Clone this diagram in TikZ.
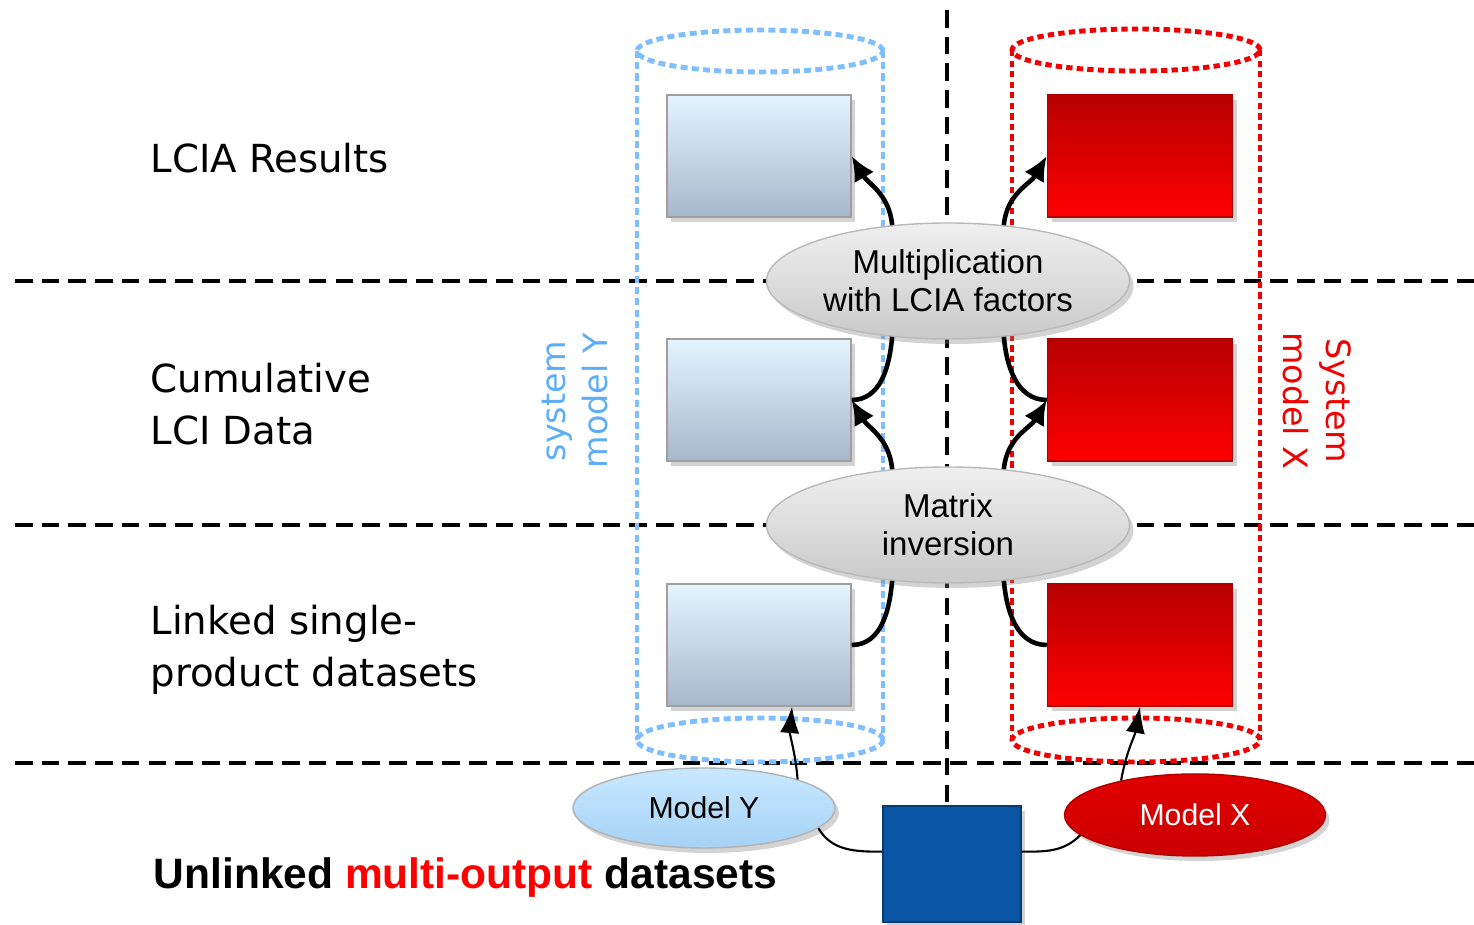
\documentclass[tikz,border=0pt]{standalone}
\usepackage{fontspec}
\setmainfont{DejaVu Sans}
\newfontfamily\arialfont{Liberation Sans}
\usetikzlibrary{shapes.geometric,arrows.meta,shadows}

\definecolor{sysblue}{HTML}{80BFFF}
\definecolor{sysred}{HTML}{F20000}
\definecolor{labelblue}{HTML}{5EAEF7}
\definecolor{boxtop}{HTML}{E4F5FF}
\definecolor{boxbot}{HTML}{A7B8CC}
\definecolor{mytop}{HTML}{C8E8FF}
\definecolor{mybot}{HTML}{A6D2F5}
\definecolor{sqblue}{HTML}{0A55A3}

\begin{document}
\begin{tikzpicture}[
  layerline/.style={black,line width=1pt,dash pattern=on 5pt off 2.6pt},
  bluecyl/.style={sysblue,line width=1.4pt,dash pattern=on 2pt off 1.2pt},
  redcyl/.style={sysred,line width=1.4pt,dash pattern=on 1.8pt off 1.2pt},
  softshadow/.style={drop shadow={opacity=0.35,shadow xshift=0.4mm,shadow yshift=-0.5mm}},
  ybox/.style={rectangle,draw=gray!75,top color=boxtop,bottom color=boxbot,
    minimum width=1.84cm,minimum height=1.22cm,inner sep=0pt,softshadow},
  xbox/.style={rectangle,draw=red!70!black,top color=red!72!black,bottom color=red,
    minimum width=1.85cm,minimum height=1.22cm,inner sep=0pt,softshadow},
  opellipse/.style={ellipse,draw=gray!55,top color=gray!12,bottom color=gray!42,
    minimum width=3.63cm,minimum height=1.16cm,inner sep=0pt,align=center,
    font=\arialfont\fontsize{9.4}{10.9}\selectfont,softshadow},
  modely/.style={ellipse,draw=gray!60,top color=mytop,bottom color=mybot,
    minimum width=2.62cm,minimum height=0.8cm,inner sep=0pt,
    font=\arialfont\fontsize{8.6}{10}\selectfont,softshadow},
  modelx/.style={ellipse,draw=red!70!black,top color=red!88!black,bottom color=red!80!black,
    minimum width=2.61cm,minimum height=0.82cm,inner sep=0pt,text=white,
    font=\arialfont\fontsize{8.6}{10}\selectfont,softshadow},
  layertext/.style={anchor=west,align=left,inner sep=0pt,font=\fontsize{11}{14.6}\selectfont},
  syslabel/.style={align=center,font=\fontsize{9.5}{12.2}\selectfont},
  thickarr/.style={-{Latex[length=7pt,width=6.5pt]},line width=1.3pt},
  thickline/.style={line width=1.3pt},
  thinarr/.style={-{Latex[length=7.5pt,width=5.5pt]},line width=0.6pt},
  thinline/.style={line width=0.6pt}
]
\useasboundingbox (0,0) rectangle (14.74,-9.25);

\draw[layerline] (0.15,-2.81) -- (14.74,-2.81);
\draw[layerline] (0.15,-5.25) -- (14.74,-5.25);
\draw[layerline] (0.15,-7.63) -- (14.74,-7.63);
\draw[layerline] (9.47,-0.1) -- (9.47,-8.06);

\draw[bluecyl] (7.60,-0.51) ellipse [x radius=1.23,y radius=0.21];
\draw[bluecyl] (7.60,-7.40) ellipse [x radius=1.23,y radius=0.22];
\draw[bluecyl] (6.37,-0.51) -- (6.37,-7.40);
\draw[bluecyl] (8.83,-0.51) -- (8.83,-7.40);

\draw[redcyl] (11.36,-0.50) ellipse [x radius=1.24,y radius=0.21];
\draw[redcyl] (11.36,-7.40) ellipse [x radius=1.24,y radius=0.22];
\draw[redcyl] (10.12,-0.50) -- (10.12,-7.40);
\draw[redcyl] (12.60,-0.50) -- (12.60,-7.40);

\node[layertext] (lcia) at (1.50,-1.58) {LCIA Results};
\node[layertext] (cumul) at (1.50,-4.04) {Cumulative\\LCI Data};
\node[layertext] (linked) at (1.50,-6.50) {Linked single-\\product datasets};
\node[anchor=west,inner sep=0pt,font=\arialfont\bfseries\fontsize{12.1}{14}\selectfont] (unlinked) at (1.53,-8.78)
  {Unlinked \textcolor{red}{multi-output} datasets};

\node[syslabel,text=labelblue,rotate=90] (sysy) at (5.75,-4.01) {system\\model Y};
\node[syslabel,text=sysred,rotate=-90] (sysx) at (13.17,-4.01) {System\\model X};

\node[ybox] (b1) at (7.59,-1.56) {};
\node[ybox] (b2) at (7.59,-4.00) {};
\node[ybox] (b3) at (7.59,-6.45) {};
\node[xbox] (r1) at (11.40,-1.56) {};
\node[xbox] (r2) at (11.40,-4.00) {};
\node[xbox] (r3) at (11.40,-6.45) {};

\node[opellipse] (mult) at (9.48,-2.81) {Multiplication\\with LCIA factors};
\node[opellipse] (inv) at (9.48,-5.25) {Matrix\\inversion};

\node[modely] (mody) at (7.04,-8.08) {Model Y};
\node[modelx] (modx) at (11.95,-8.15) {Model X};
\node[rectangle,draw=sqblue!70!black,fill=sqblue,minimum width=1.38cm,minimum height=1.16cm,
  inner sep=0pt,softshadow] (sq) at (9.52,-8.64) {};

\draw[thickarr] (mult.135) to[out=95,in=-60] (b1.east);
\draw[thickarr] (mult.45) to[out=85,in=-120] (r1.west);
\draw[thickline] (mult.225) to[out=-95,in=0] (b2.east);
\draw[thickline] (mult.315) to[out=-85,in=180] (r2.west);
\draw[thickarr] (inv.135) to[out=95,in=-60] (b2.east);
\draw[thickarr] (inv.45) to[out=85,in=-120] (r2.west);
\draw[thickline] (b3.east) to[out=0,in=-95] (inv.225);
\draw[thickline] (r3.west) to[out=180,in=-85] (inv.315);

\draw[thinarr] (mody.17) to[out=95,in=-95] ([xshift=3.3mm]b3.south);
\draw[thinarr] (modx.155) to[out=80,in=-100] (r3.south);
\draw[thinline] (mody.-10) to[out=-60,in=180] (sq.170);
\draw[thinline] (sq.10) to[out=0,in=-135] (modx.190);
\end{tikzpicture}
\end{document}
